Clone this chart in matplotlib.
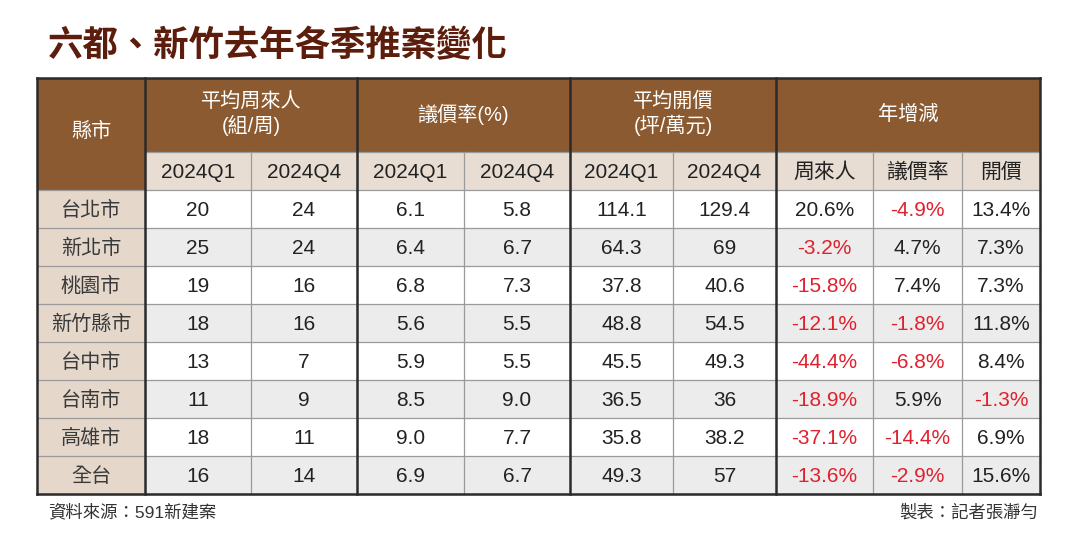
import matplotlib.pyplot as plt
from matplotlib.patches import Rectangle

plt.rcParams['font.family'] = ['Liberation Sans', 'Noto Sans CJK TC', 'DejaVu Sans']

# 資料
cities = ['台北市', '新北市', '桃園市', '新竹縣市', '台中市', '台南市', '高雄市', '全台']
visitors_q1 = [20, 25, 19, 18, 13, 11, 18, 16]
visitors_q4 = [24, 24, 16, 16, 7, 9, 11, 14]
bargain_q1 = [6.1, 6.4, 6.8, 5.6, 5.9, 8.5, 9.0, 6.9]
bargain_q4 = [5.8, 6.7, 7.3, 5.5, 5.5, 9.0, 7.7, 6.7]
price_q1 = [114.1, 64.3, 37.8, 48.8, 45.5, 36.5, 35.8, 49.3]
price_q4 = [129.4, 69, 40.6, 54.5, 49.3, 36, 38.2, 57]
yoy_visitors = [20.6, -3.2, -15.8, -12.1, -44.4, -18.9, -37.1, -13.6]
yoy_bargain = [-4.9, 4.7, 7.4, -1.8, -6.8, 5.9, -14.4, -2.9]
yoy_price = [13.4, 7.3, 7.3, 11.8, 8.4, -1.3, 6.9, 15.6]

groups = ['平均周來人\n(組/周)', '議價率(%)', '平均開價\n(坪/萬元)', '年增減']
sub_headers = ['2024Q1', '2024Q4', '2024Q1', '2024Q4', '2024Q1', '2024Q4', '周來人', '議價率', '開價']

# 版面 (像素)
col_x = [37, 145, 251, 357, 464, 570, 673, 776, 873, 962, 1040]
thick_cols = {0, 1, 3, 5, 7, 10}
y_top, y_sub, y_data, row_h = 78, 152, 190, 38
n_rows = len(cities)
y_bot = y_data + n_rows * row_h

BROWN = '#8b5a30'
BEIGE = '#e7ddd3'
CITY_BG = '#e5d8cb'
GRAY = '#ececec'
RED = '#e0202e'
TXT = '#222222'

fig = plt.figure(figsize=(10.8, 5.45), dpi=100)
ax = fig.add_axes([0, 0, 1, 1])
ax.set_xlim(0, 1080)
ax.set_ylim(545, 0)
ax.axis('off')

ax.text(48, 46, '六都、新竹去年各季推案變化', fontsize=25.5, fontweight='bold',
        color='#5c1d0c', va='center', ha='left', family=['Noto Sans CJK TC'])

# 表頭
ax.add_patch(Rectangle((col_x[0], y_top), col_x[-1] - col_x[0], y_sub - y_top, color=BROWN, lw=0))
ax.add_patch(Rectangle((col_x[0], y_sub), col_x[1] - col_x[0], y_data - y_sub, color=BROWN, lw=0))
ax.add_patch(Rectangle((col_x[1], y_sub), col_x[-1] - col_x[1], y_data - y_sub, color=BEIGE, lw=0))
ax.text((col_x[0] + col_x[1]) / 2, 131, '縣市', color='white', fontsize=14.5, ha='center', va='center')

group_spans = [(1, 3), (3, 5), (5, 7), (7, 10)]
for g, (a, b) in zip(groups, group_spans):
    ax.text((col_x[a] + col_x[b]) / 2, 114, g, color='white', fontsize=14.5,
            ha='center', va='center', linespacing=1.2)

for i, s in enumerate(sub_headers):
    ax.text((col_x[i + 1] + col_x[i + 2]) / 2, (y_sub + y_data) / 2 + 1, s,
            color=TXT, fontsize=15, ha='center', va='center', fontweight='light')

# 資料列
columns = [
    [f'{v}' for v in visitors_q1],
    [f'{v}' for v in visitors_q4],
    [f'{v:.1f}' for v in bargain_q1],
    [f'{v:.1f}' for v in bargain_q4],
    [f'{v:g}' for v in price_q1],
    [f'{v:g}' for v in price_q4],
]
pct_columns = [yoy_visitors, yoy_bargain, yoy_price]

for r in range(n_rows):
    y0 = y_data + r * row_h
    yc = y0 + row_h / 2 + 1
    ax.add_patch(Rectangle((col_x[0], y0), col_x[1] - col_x[0], row_h, color=CITY_BG, lw=0))
    ax.add_patch(Rectangle((col_x[1], y0), col_x[-1] - col_x[1], row_h,
                           color='white' if r % 2 == 0 else GRAY, lw=0))
    ax.text((col_x[0] + col_x[1]) / 2, yc, cities[r], color='#3a3a3a', fontsize=14.5,
            ha='center', va='center', fontweight='light')
    for c, vals in enumerate(columns):
        ax.text((col_x[c + 1] + col_x[c + 2]) / 2, yc, vals[r], color=TXT, fontsize=15,
                ha='center', va='center')
    for k, vals in enumerate(pct_columns):
        v = vals[r]
        ax.text((col_x[k + 7] + col_x[k + 8]) / 2, yc, f'{v:.1f}%',
                color=RED if v < 0 else TXT, fontsize=15, ha='center', va='center')

# 格線
for r in range(n_rows + 1):
    y = y_data + r * row_h
    ax.plot([col_x[0], col_x[-1]], [y, y], color='#9a9a9a', lw=0.9, zorder=3)
ax.plot([col_x[1], col_x[-1]], [y_sub, y_sub], color='#9a9a9a', lw=0.9, zorder=3)
for i, x in enumerate(col_x):
    if i in thick_cols:
        ax.plot([x, x], [y_top, y_bot], color='#2b2b2b', lw=1.8, zorder=4)
    else:
        ax.plot([x, x], [y_sub, y_bot], color='#9a9a9a', lw=0.9, zorder=3)
ax.plot([col_x[0], col_x[-1]], [y_top, y_top], color='#2b2b2b', lw=1.8, zorder=4)
ax.plot([col_x[0], col_x[-1]], [y_bot, y_bot], color='#2b2b2b', lw=1.8, zorder=4)

# 註腳
ax.text(48, 512, '資料來源：591新建案', color='#333333', fontsize=12.5, ha='left', va='center')
ax.text(1038, 512, '製表：記者張瀞勻', color='#333333', fontsize=12.5, ha='right', va='center')

fig.savefig('out.png', dpi=100)
